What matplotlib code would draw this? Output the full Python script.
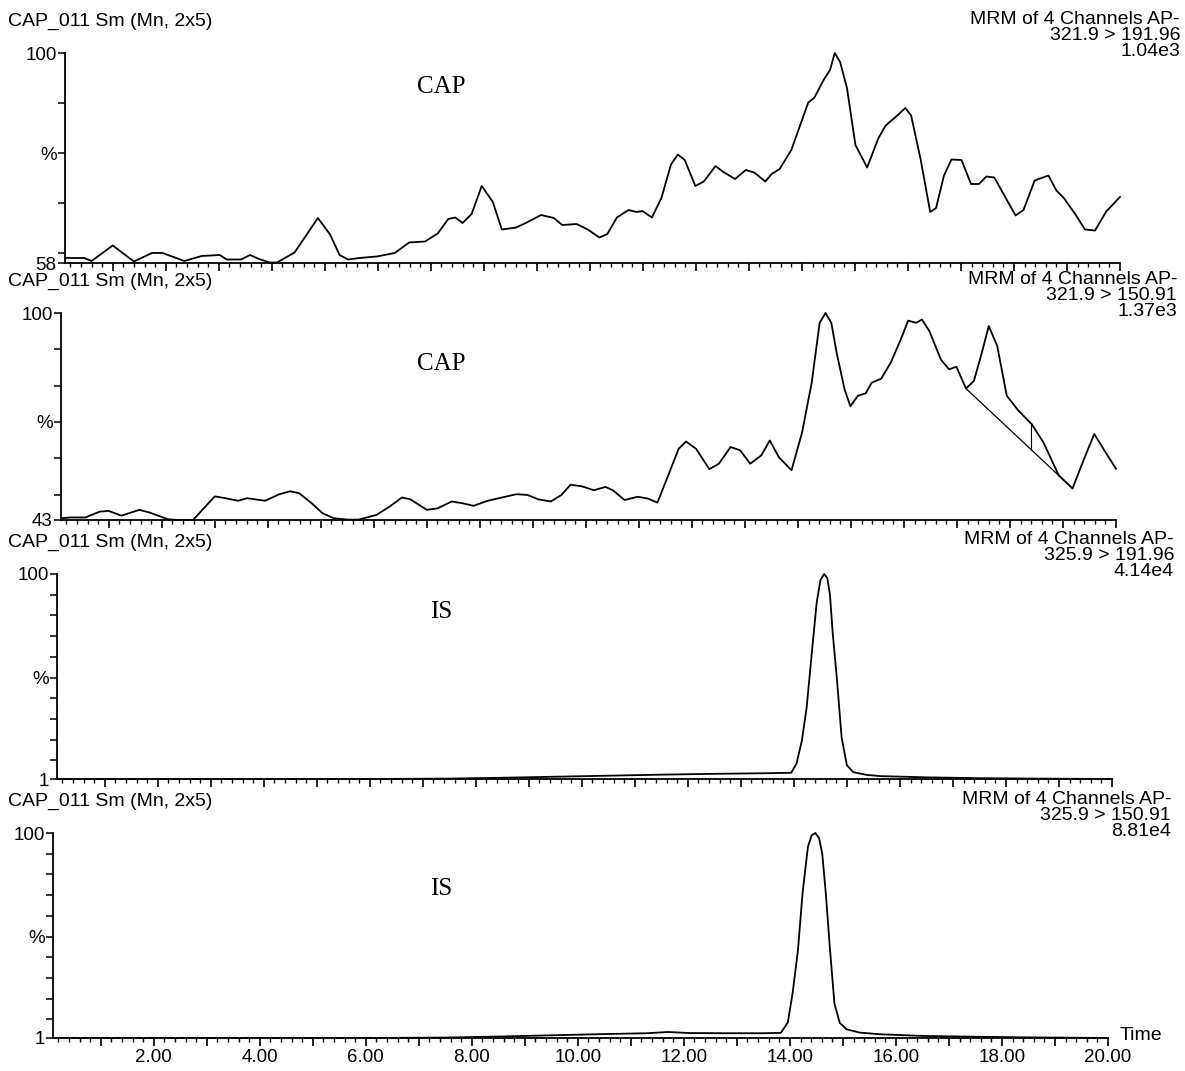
import numpy as np
import matplotlib.pyplot as plt
from matplotlib import ticker

# ---- data ----
header = "CAP_011 Sm (Mn, 2x5)"
channel = "MRM of 4 Channels AP-"
transitions = ["321.9 > 191.96", "321.9 > 150.91", "325.9 > 191.96", "325.9 > 150.91"]
intensities = ["1.04e3", "1.37e3", "4.14e4", "8.81e4"]
compound = ["CAP", "CAP", "IS", "IS"]
y_bottom = [58, 43, 1, 1]
pct_tick = [80, 70, 50, 50]

t1 = [0.11, 0.46, 0.6, 1.0, 1.4, 1.74, 1.94, 2.35, 2.68, 3.02,
      3.15, 3.42, 3.59, 3.76, 3.96, 4.1, 4.43, 4.87, 5.1, 5.28,
      5.44, 5.65, 5.98, 6.32, 6.59, 6.89, 7.13, 7.33, 7.46, 7.6,
      7.77, 7.96, 8.17, 8.34, 8.61, 8.81, 9.08, 9.32, 9.48, 9.75,
      9.96, 10.18, 10.33, 10.51, 10.73, 10.88, 10.99, 11.17, 11.35, 11.53,
      11.66, 11.79, 11.99, 12.15, 12.37, 12.52, 12.74, 12.94, 13.1, 13.31,
      13.43, 13.58, 13.8, 14.12, 14.23, 14.42, 14.53, 14.62, 14.72, 14.85,
      15.01, 15.23, 15.44, 15.58, 15.8, 15.95, 16.06, 16.24, 16.42, 16.53,
      16.68, 16.82, 17.01, 17.19, 17.34, 17.48, 17.63, 17.85, 18.03, 18.18,
      18.39, 18.65, 18.8, 18.94, 19.16, 19.34, 19.53, 19.74, 20.0]
v1 = [59.0, 59.0, 58.4, 61.5, 58.3, 60.0, 60.0, 58.4, 59.4, 59.6,
      58.7, 58.7, 59.6, 58.8, 58.1, 58.1, 60.1, 67.0, 63.7, 59.6,
      58.7, 59.0, 59.3, 60.0, 62.1, 62.3, 63.9, 66.8, 67.1, 66.0,
      67.8, 73.4, 70.2, 64.7, 65.1, 66.1, 67.6, 67.0, 65.6, 65.8,
      64.7, 63.1, 63.8, 67.1, 68.6, 68.2, 68.4, 67.1, 71.0, 77.7,
      79.7, 78.6, 73.4, 74.3, 77.4, 76.2, 74.8, 76.6, 76.1, 74.3,
      75.8, 76.8, 80.6, 90.1, 91.0, 94.8, 96.6, 100, 98.2, 93.0,
      81.6, 77.1, 82.9, 85.5, 87.5, 89.0, 87.5, 78.7, 68.2, 69.0,
      75.5, 78.7, 78.6, 73.8, 73.8, 75.3, 75.1, 70.9, 67.5, 68.6,
      74.5, 75.5, 72.5, 71.0, 67.7, 64.7, 64.5, 68.3, 71.2]

t2 = [0.1, 0.29, 0.56, 0.83, 1.0, 1.24, 1.58, 1.78, 2.12, 2.32,
      2.59, 3.0, 3.2, 3.44, 3.61, 3.95, 4.22, 4.42, 4.59, 4.83,
      5.03, 5.24, 5.51, 5.71, 6.05, 6.32, 6.53, 6.69, 7.0, 7.2,
      7.47, 7.68, 7.88, 8.15, 8.42, 8.69, 8.9, 9.1, 9.34, 9.54,
      9.71, 9.92, 10.15, 10.37, 10.51, 10.73, 10.98, 11.17, 11.35, 11.53,
      11.75, 11.89, 12.08, 12.33, 12.51, 12.73, 12.91, 13.1, 13.31, 13.47,
      13.64, 13.88, 14.08, 14.26, 14.41, 14.52, 14.63, 14.73, 14.88, 14.99,
      15.13, 15.28, 15.39, 15.57, 15.75, 15.94, 16.08, 16.23, 16.34, 16.48,
      16.70, 16.85, 16.99, 17.17, 17.32, 17.47, 17.60, 17.76, 17.94, 18.16,
      18.41, 18.63, 18.92, 19.18, 19.40, 19.59, 19.80, 20.0]
v2 = [43.5, 43.7, 43.7, 45.3, 45.5, 44.2, 45.8, 45.0, 43.2, 43.0,
      43.0, 49.5, 49.0, 48.3, 49.0, 48.3, 50.1, 50.9, 50.4, 47.6,
      44.9, 43.5, 43.1, 43.1, 44.4, 46.9, 49.2, 48.7, 45.8, 46.2,
      48.1, 47.6, 46.9, 48.3, 49.2, 50.1, 49.9, 48.7, 48.1, 49.9,
      52.7, 52.3, 51.2, 52.1, 51.2, 48.5, 49.4, 48.9, 47.8, 54.4,
      62.6, 64.6, 62.6, 57.0, 58.5, 63.1, 62.2, 58.5, 60.8, 64.9,
      60.3, 56.7, 67.2, 80.8, 97.3, 100, 97.3, 89.1, 79.0, 74.3,
      77.2, 77.9, 80.8, 81.9, 86.3, 92.7, 97.9, 97.3, 98.2, 95.0,
      87.1, 84.5, 85.2, 79.2, 81.3, 89.1, 96.4, 90.9, 77.2, 73.1,
      69.4, 64.4, 55.3, 51.7, 59.9, 66.7, 61.7, 57.1]
# integration baseline drawn on panel 2 (start, end) and drop line time
base2_times = [17.17, 19.18]
drop2_time = 18.4

t3 = [0.1, 2, 4, 6, 7.5, 8.5, 9.5, 10.5, 11.5, 12.5, 13.5, 13.95, 14.05,
      14.15, 14.24, 14.34, 14.43, 14.50, 14.57, 14.63, 14.68, 14.73, 14.81,
      14.90, 15.0, 15.12, 15.37, 15.62, 16.5, 17.5, 18.5, 20.0]
v3 = [1, 1, 1, 1, 1.2, 1.6, 2.1, 2.6, 3.1, 3.5, 3.8, 4.0, 8.5,
      19.5, 35.5, 62.5, 86.3, 97.0, 100, 98.0, 90.0, 72.0, 49.6,
      21.0, 7.6, 4.3, 3.0, 2.4, 1.8, 1.4, 1.2, 1.0]

t4 = [0.1, 2, 4, 6, 7.5, 8.5, 9.5, 10.5, 11.3, 11.7, 12.1, 12.8, 13.5, 13.83,
      13.96, 14.05, 14.15, 14.24, 14.34, 14.41, 14.48, 14.55, 14.61, 14.68,
      14.75, 14.84, 14.94, 15.07, 15.32, 15.70, 16.5, 17.5, 18.5, 20.0]
v4 = [1, 1, 1, 1, 1.2, 1.7, 2.3, 2.9, 3.3, 3.9, 3.4, 3.3, 3.3, 3.5,
      8.5, 22.5, 43, 71.3, 93.4, 98.9, 100, 97.5, 90.0, 70.0,
      45.7, 17.6, 8.3, 5.2, 3.6, 2.8, 2.0, 1.6, 1.3, 1.0]

times = [t1, t2, t3, t4]
values = [v1, v2, v3, v4]

# ---- layout in pixels of the 1185 x 1071 page (the scan is slightly skewed) ----
W, H = 1185, 1071
ax_lefts = [65, 61, 57, 53]
ax_rights = [1120, 1116, 1112, 1108]
panel_tops = [53, 313, 574, 833]
panel_bottoms = [263, 520, 779, 1038]
text_right = [1180, 1177, 1174, 1171]
label_px = [(441, 87), (441, 364), (441, 612), (441, 889)]

sans = ['Liberation Sans', 'DejaVu Sans']
serif = ['Liberation Serif', 'DejaVu Serif']

fig = plt.figure(figsize=(W / 100, H / 100), dpi=100)


@ticker.FuncFormatter
def time_formatter(x, pos):
    if abs(x - round(x)) < 1e-6 and int(round(x)) % 2 == 0 and x > 0.5:
        return f'{x:.2f}'
    return ''


def setup(ax, i):
    """Axes styling shared by the four traces."""
    ax.set_xlim(0.1, 20.0)
    ax.set_ylim(y_bottom[i], 100)
    ax.spines[['right', 'top']].set_visible(False)
    ax.spines[['left', 'bottom']].set_linewidth(1.3)
    ax.xaxis.set_major_locator(ticker.MultipleLocator(1))
    ax.xaxis.set_minor_locator(ticker.MultipleLocator(0.2))
    ax.xaxis.set_major_formatter(time_formatter)
    ax.tick_params(axis='x', which='major', direction='out', length=6, width=1.2,
                   labelsize=13.5, pad=2, labelbottom=(i == 3))
    ax.tick_params(axis='x', which='minor', direction='out', length=3, width=1.0)
    ticks = [y_bottom[i]] + [v for v in range(10, 101, 10) if v > y_bottom[i] + 1]
    labels = []
    for v in ticks:
        if v == y_bottom[i]:
            labels.append(str(v))
        elif v == 100:
            labels.append('100')
        elif v == pct_tick[i]:
            labels.append('%')
        else:
            labels.append('')
    ax.set_yticks(ticks)
    ax.set_yticklabels(labels)
    ax.tick_params(axis='y', direction='out', length=5, width=1.1, labelsize=13.5, pad=1)
    for lab in ax.get_xticklabels() + ax.get_yticklabels():
        lab.set_family(sans)


for i in range(4):
    top, bot = panel_tops[i], panel_bottoms[i]
    left, right = ax_lefts[i], ax_rights[i]
    ax = fig.add_axes([left / W, 1 - bot / H, (right - left) / W, (bot - top) / H])
    setup(ax, i)
    ax.plot(times[i], values[i], color='black', linewidth=1.3, clip_on=False)

    if i == 1:
        bt = np.array(base2_times)
        bv = np.interp(bt, t2, v2)
        ax.plot(bt, bv, color='black', linewidth=0.9)
        dv_top = np.interp(drop2_time, t2, v2)
        dv_bot = np.interp(drop2_time, bt, bv)
        ax.plot([drop2_time, drop2_time], [dv_bot, dv_top], color='black', linewidth=0.8)

    # header lines
    fig.text(8 / W, 1 - (top - 32) / H, header, ha='left', va='center',
             fontsize=14, family=sans)
    fig.text(text_right[i] / W, 1 - (top - 34) / H, channel, ha='right', va='center',
             fontsize=14, family=sans)
    fig.text(text_right[i] / W, 1 - (top - 18) / H, transitions[i], ha='right', va='center',
             fontsize=14, family=sans)
    fig.text(text_right[i] / W, 1 - (top - 2) / H, intensities[i], ha='right', va='center',
             fontsize=14, family=sans)

    lx, ly = label_px[i]
    fig.text(lx / W, 1 - ly / H, compound[i], ha='center', va='center',
             fontsize=18, family=serif)

fig.text(1120 / W, 1 - 1035 / H, 'Time', ha='left', va='center', fontsize=14, family=sans)

fig.savefig('out.png', dpi=100)
